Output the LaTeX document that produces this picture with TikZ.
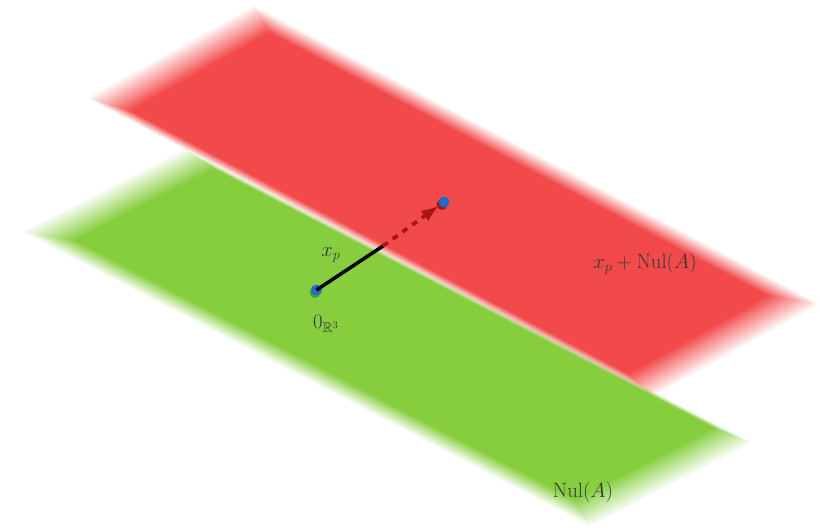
\documentclass[tikz,border=0pt]{standalone}
\usepackage{amsmath,amssymb}
\usetikzlibrary{calc,arrows.meta}
\definecolor{planered}{RGB}{242,74,74}
\definecolor{planegreen}{RGB}{134,206,62}
\definecolor{dotblue}{RGB}{35,105,200}
\definecolor{arrowred}{RGB}{170,22,22}
\definecolor{dotgreen}{RGB}{70,160,60}
\tikzset{
  lbl/.style={text=black!78, font=\fontsize{20}{24}\selectfont, inner sep=0pt},
  dotnode/.style={circle, fill=dotblue, minimum size=11pt, inner sep=0pt},
  vecsolid/.style={line width=3.5pt, black},
  vecdash/.style={line width=3.8pt, arrowred, dash pattern=on 6pt off 6pt, -{Latex[length=18pt,width=13pt]}},
}
% #1 colour, #2 prefix of corner names, #3..#6 fade widths of the
% upper-left short edge, top long edge, right short edge, bottom long edge
\newcommand{\softplane}[6]{%
  \foreach \k in {1,...,14} {
    \pgfmathsetmacro{\fr}{(\k-1)/13}
    \pgfmathsetmacro{\opa}{1/(15-\k)}
    \pgfmathsetmacro{\fA}{#3*\fr}
    \pgfmathsetmacro{\fB}{#4*\fr}
    \pgfmathsetmacro{\fC}{#5*\fr}
    \pgfmathsetmacro{\fD}{#6*\fr}
    \fill[#1, fill opacity=\opa]
      ($(#2L)+({1.099*\fD+1.093*\fA},{-0.556*\fD+0.568*\fA})$) --
      ($(#2T)+({-1.099*\fB+1.093*\fA},{0.556*\fB+0.568*\fA})$) --
      ($(#2R)+({-1.099*\fB-1.093*\fC},{0.556*\fB-0.568*\fC})$) --
      ($(#2B)+({1.099*\fD-1.093*\fC},{-0.556*\fD-0.568*\fC})$) -- cycle;
  }%
}
\begin{document}
\begin{tikzpicture}[x=1pt,y=-1pt]
\useasboundingbox (0,0) rectangle (820,528);
% plane corners (pixel frame)
\coordinate (rL) at (88,98);
\coordinate (rT) at (254,6);
\coordinate (rR) at (819,304);
\coordinate (rB) at (653,396);
\coordinate (gL) at (23,232);
\coordinate (gT) at (185,149);
\coordinate (gR) at (752,443);
\coordinate (gB) at (590,526);
\softplane{planered}{r}{30}{16}{30}{8}
\softplane{planegreen}{g}{30}{4}{30}{16}
% points
\fill[dotgreen] (315,292.5) circle (5.5pt);
\node[dotnode] (o) at (316.5,290) {};
\fill[arrowred] (442,204.5) circle (5.5pt);
\node[dotnode] (p) at (444,202) {};
\coordinate (m) at (383,246);
% vector
\draw[vecsolid] (o.center) -- (m);
\draw[vecdash] (m) -- (p);
% labels
\node[lbl] (xp) at (331,255) {$x_p$};
\node[lbl] (zero) at (326,324) {$0_{\mathbb{R}^3}$};
\node[lbl] (aff) at (645,264) {$x_p+\mathrm{Nul}(A)$};
\node[lbl] (nul) at (583,492) {$\mathrm{Nul}(A)$};
\end{tikzpicture}
\end{document}
